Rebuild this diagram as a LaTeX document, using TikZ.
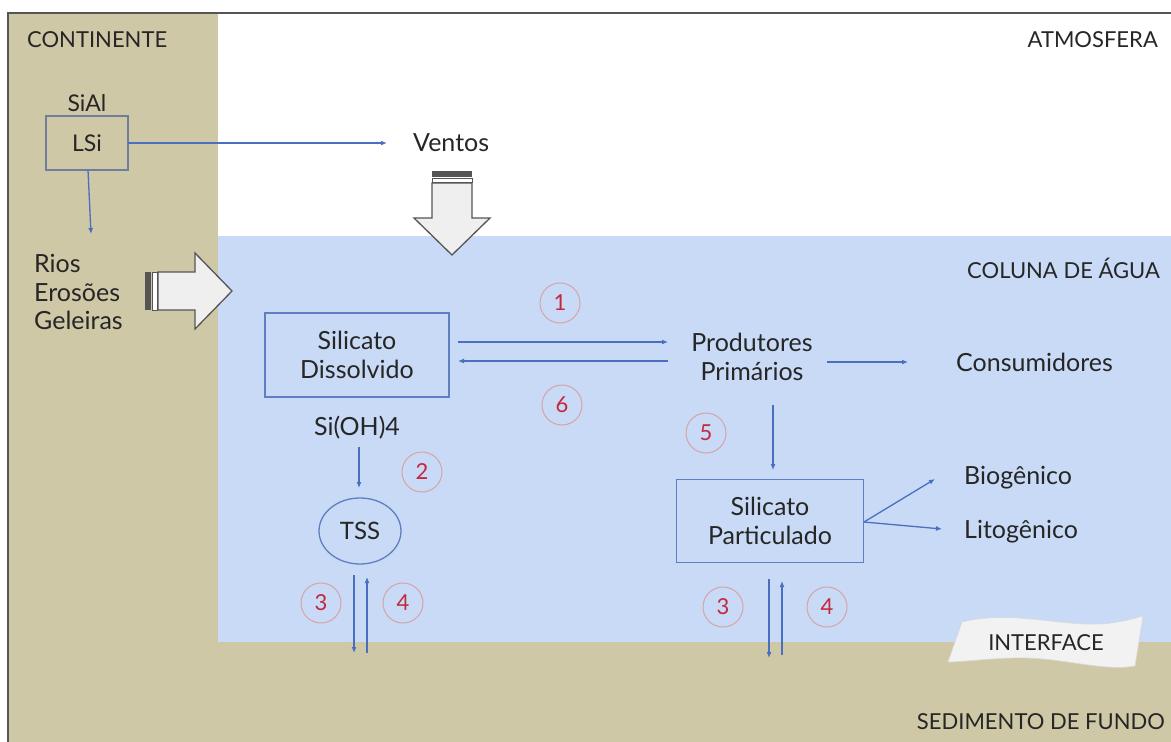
\documentclass[tikz,border=0pt]{standalone}
\usepackage{fontspec}
\setmainfont{Lato}
\usetikzlibrary{arrows.meta,shapes.geometric}
\definecolor{tanc}{HTML}{CFC8A6}
\definecolor{waterc}{HTML}{C8DAF5}
\definecolor{arrc}{HTML}{4A6FC0}
\definecolor{boxc}{HTML}{5E80C2}
\definecolor{lsic}{HTML}{707E9C}
\definecolor{numred}{HTML}{C4283E}
\definecolor{numring}{HTML}{D6A3A8}
\definecolor{txtc}{HTML}{262626}
\definecolor{blockc}{HTML}{EFEFEF}
\definecolor{blockd}{HTML}{555555}
\tikzset{
  lbl/.style={text=txtc, font=\fontsize{22}{28.5}\selectfont, inner sep=0pt},
  body/.style={text=txtc, font=\fontsize{25}{28.5}\selectfont, inner sep=0pt, align=center},
  sbox/.style={draw=boxc, line width=1.3pt, text=txtc, font=\fontsize{25}{28.5}\selectfont, align=center, inner sep=0pt},
  numc/.style={circle, draw=numring, line width=1pt, text=numred, minimum size=40pt, inner sep=0pt, font=\fontsize{22}{24}\selectfont},
  flow/.style={draw=arrc, line width=1.3pt, -{Latex[length=6pt,width=5pt]}},
  blockarrow/.style={draw=blockd, line width=1.3pt, fill=blockc, line join=miter},
}
\begin{document}
\begin{tikzpicture}[x=1pt,y=-1pt]
\useasboundingbox (0,0) rectangle (1171,742);
% background regions
\fill[white] (0,0) rectangle (1171,742);
\fill[tanc] (8,13) rectangle (218,742);
\fill[waterc] (218,236) rectangle (1171,642);
\fill[tanc] (218,642) rectangle (1171,742);
\draw[blockd, line width=1.5pt] (8,750) -- (8,13) -- (1180,13);

% region labels
\node[lbl, anchor=west] (continente) at (27,40) {CONTINENTE};
\node[lbl, anchor=east] (atmos) at (1158,40) {ATMOSFERA};
\node[lbl, anchor=east] (coluna) at (1160,268) {COLUNA DE ÁGUA};
\node[lbl, anchor=east] (sedimento) at (1165,722) {SEDIMENTO DE FUNDO};

% continent
\node[lbl, font=\fontsize{23}{28}\selectfont] (sial) at (87,103) {SiAl};
\node[draw=lsic, line width=1.3pt, minimum width=82pt, minimum height=54pt, lbl, font=\fontsize{23}{28}\selectfont] (lsi) at (87,143) {LSi};
\node[body, anchor=west] (ventos) at (413,143) {Ventos};
\node[body, anchor=west, align=left] (rios) at (34,292) {Rios\\Erosões\\Geleiras};

% block arrows
\fill[blockd] (145,272) rectangle (151,310);
\draw[blockd, fill=white, line width=1pt] (152.5,272) rectangle (157,310);
\draw[blockarrow] (158,272) -- (195,272) -- (195,253) -- (232,291) -- (195,329) -- (195,310) -- (158,310) -- cycle;
\fill[blockd] (432,171) rectangle (472,177);
\draw[blockd, fill=white, line width=1pt] (432,178.5) rectangle (472,182);
\draw[blockarrow] (432,183) -- (472,183) -- (472,218) -- (490,218) -- (452,255) -- (414,218) -- (432,218) -- cycle;

% water column
\node[sbox, minimum width=184pt, minimum height=84pt] (sd) at (357,355) {Silicato\\Dissolvido};
\node[body] (sioh) at (357,428) {Si(OH)4};
\node[draw=boxc, line width=1.3pt, ellipse, minimum width=82pt, minimum height=66pt, text=txtc, font=\fontsize{24}{26}\selectfont, inner sep=0pt] (tss) at (360,531) {TSS};
\node[body] (prod) at (752,357) {Produtores\\Primários};
\node[body, anchor=west] (cons) at (956,362) {Consumidores};
\node[sbox, minimum width=187pt, minimum height=83pt] (sp) at (770,521) {Silicato\\Particulado};
\node[body, anchor=west] (bio) at (964,478) {Biogênico};
\node[body, anchor=west] (lito) at (964,532) {Litogênico};

% interface banner
\draw[draw=white!85!black, fill=white!95!black, line width=0.6pt]
  (962,622) .. controls (1010,610) and (1060,626) .. (1100,624)
  .. controls (1120,623) and (1135,618) .. (1143,616)
  -- (1135,666) .. controls (1100,672) and (1060,656) .. (1010,658)
  .. controls (985,659) and (960,662) .. (948,662) -- cycle;
\node[lbl] (interface) at (1046,643) {INTERFACE};

% numbered circles
\node[numc] (c1) at (560,303) {1};
\node[numc] (c6) at (562,405) {6};
\node[numc] (c2) at (422,472) {2};
\node[numc] (c5) at (706,433) {5};
\node[numc] (c3a) at (321,603) {3};
\node[numc] (c4a) at (403,603) {4};
\node[numc] (c3b) at (723,607) {3};
\node[numc] (c4b) at (827,607) {4};

% connector end points
\coordinate (lsiout) at (128,143);
\coordinate (ventosin) at (387,143);
\coordinate (lsidown) at (88,170);
\coordinate (riosin) at (91,234);
\coordinate (a1s) at (458,342);
\coordinate (a1e) at (668,342);
\coordinate (a6s) at (668,361);
\coordinate (a6e) at (458,361);
\coordinate (consS) at (827,362);
\coordinate (consE) at (908,362);
\coordinate (a5s) at (773,405);
\coordinate (a5e) at (773,470);
\coordinate (a2s) at (359,447);
\coordinate (a2e) at (359,488);
\coordinate (t3s) at (354,575);
\coordinate (t3e) at (354,653);
\coordinate (t4s) at (367,653);
\coordinate (t4e) at (367,577);
\coordinate (p3s) at (769,579);
\coordinate (p3e) at (769,658);
\coordinate (p4s) at (782,655);
\coordinate (p4e) at (782,581);
\coordinate (spout) at (864,522);
\coordinate (bioin) at (935,479);
\coordinate (litoin) at (942,529);

% connectors
\draw[flow] (lsiout) -- (ventosin);
\draw[flow] (lsidown) -- (riosin);
\draw[flow] (a1s) -- (a1e);
\draw[flow] (a6s) -- (a6e);
\draw[flow] (consS) -- (consE);
\draw[flow] (a5s) -- (a5e);
\draw[flow] (a2s) -- (a2e);
\draw[flow] (t3s) -- (t3e);
\draw[flow] (t4s) -- (t4e);
\draw[flow] (p3s) -- (p3e);
\draw[flow] (p4s) -- (p4e);
\draw[flow] (spout) -- (bioin);
\draw[flow] (spout) -- (litoin);
\end{tikzpicture}
\end{document}
